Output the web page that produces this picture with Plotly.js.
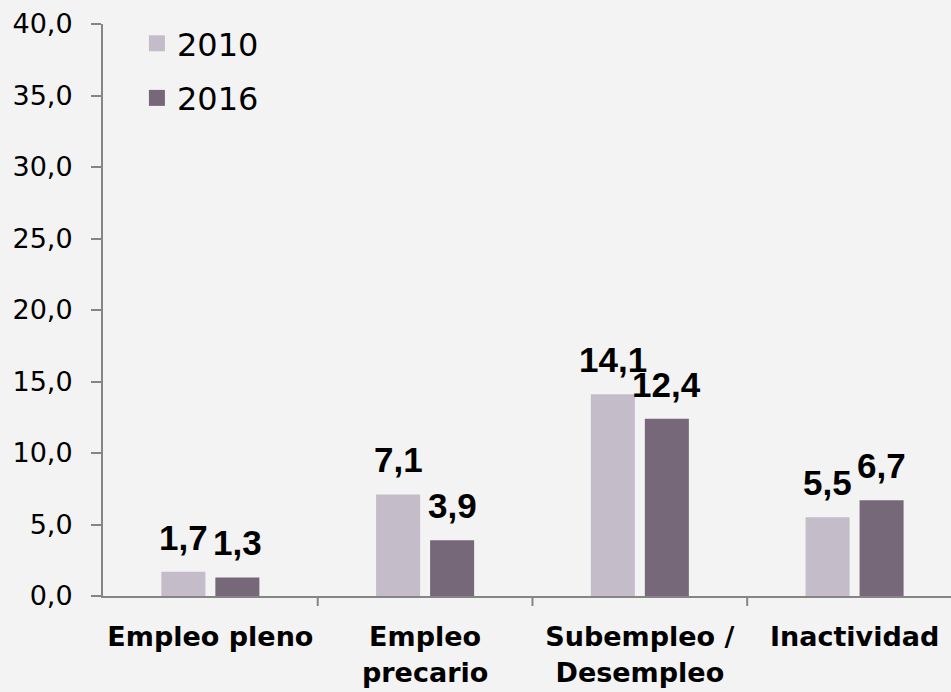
<!DOCTYPE html>
<html>
<head>
<meta charset="utf-8">
<script src="https://cdn.plot.ly/plotly-3.0.1.min.js"></script>
<style>html,body{margin:0;padding:0;background:#f3f3f3;overflow:hidden}</style>
</head>
<body>
<div id="chart" style="width:951px;height:692px"></div>
<script>
var categories = ["Empleo pleno", "Empleo<br>precario", "Subempleo /<br>Desempleo", "Inactividad"];
var seriesNames = ["2010", "2016"];
var values2010 = [1.7, 7.1, 14.1, 5.5];
var values2016 = [1.3, 3.9, 12.4, 6.7];
var colors = ["#c4bcc8", "#776879"];
var yTicks = [0, 5, 10, 15, 20, 25, 30, 35, 40];

var xIdx = categories.map(function (c, i) { return i; });
var seriesVals = [values2010, values2016];

var traces = seriesVals.map(function (vals, s) {
  return {
    type: "bar", x: xIdx, y: vals, name: seriesNames[s],
    marker: { color: colors[s] }, showlegend: false, hoverinfo: "skip"
  };
});
seriesNames.forEach(function (n, s) {
  traces.push({
    type: "scatter", mode: "markers", x: [null], y: [null], name: n,
    legendgroup: "g" + s,
    marker: { symbol: "square", size: 20, color: colors[s] }, showlegend: true
  });
});

function fmt(v) { return v.toFixed(1).replace(".", ","); }
var annotations = [];
seriesVals.forEach(function (vals, s) {
  vals.forEach(function (v, i) {
    annotations.push({
      x: i, y: v, xref: "x", yref: "y", text: fmt(v), showarrow: false,
      xanchor: "center", yanchor: "bottom", xshift: s === 0 ? -27 : 27, yshift: 13,
      font: { family: "Liberation Sans, Arial, sans-serif", size: 35, color: "#000", weight: "bold" }
    });
  });
});

var layout = {
  width: 951, height: 692,
  margin: { l: 103, r: 0, t: 24, b: 96, pad: 0 },
  paper_bgcolor: "#f3f3f3", plot_bgcolor: "#f3f3f3",
  separators: ",.",
  barmode: "group", bargap: 0.497, bargroupgap: 0.185,
  font: { family: "DejaVu Sans, sans-serif", color: "#000" },
  xaxis: {
    range: [-0.5, 3.449], tickmode: "array", tickvals: xIdx, ticktext: categories,
    showline: true, linecolor: "#858585", linewidth: 2, showgrid: false, zeroline: false,
    ticks: "", ticklabelstandoff: 16,
    tickfont: { family: "DejaVu Sans, sans-serif", size: 27, color: "#000", weight: "bold" }
  },
  yaxis: {
    range: [0, 40], tickmode: "array", tickvals: yTicks, tickformat: ".1f",
    showline: true, linecolor: "#858585", linewidth: 2, showgrid: false, zeroline: false,
    ticks: "outside", ticklen: 10, tickwidth: 2, tickcolor: "#858585", ticklabelstandoff: 13,
    tickfont: { family: "DejaVu Sans, sans-serif", size: 27, color: "#000" }
  },
  shapes: [0, 1, 2, 3].map(function (i) {
    return { type: "line", xref: "x", yref: "paper", x0: i + 0.5, x1: i + 0.5, y0: 0, y1: -0.0175,
      line: { color: "#858585", width: 2 } };
  }),
  legend: {
    x: 0.04, y: 1.014, xanchor: "left", yanchor: "top", bgcolor: "rgba(0,0,0,0)",
    font: { family: "DejaVu Sans, sans-serif", size: 32, color: "#000" },
    tracegroupgap: 10, itemwidth: 30
  },
  annotations: annotations
};
Plotly.newPlot("chart", traces, layout, { displayModeBar: false, staticPlot: true });
</script>
</body>
</html>
